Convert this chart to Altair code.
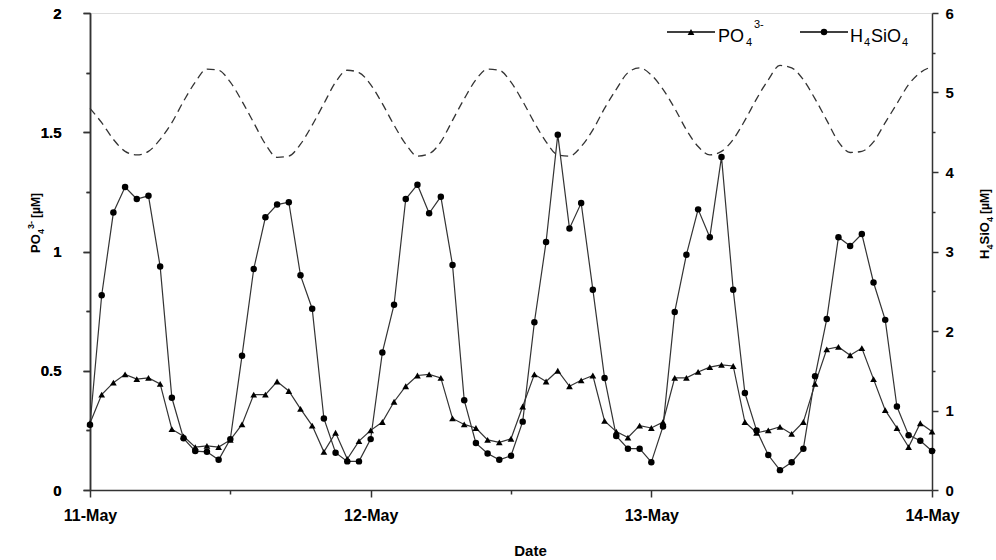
import altair as alt
import pandas as pd

FONT = "Liberation Sans"

# hours after 11-May 00:00 (hourly sampling)
hours = list(range(73))

po4 = [0.28, 0.40, 0.45, 0.485, 0.465, 0.47, 0.445, 0.255, 0.225, 0.18,
       0.185, 0.18, 0.21, 0.275, 0.40, 0.40, 0.455, 0.415, 0.34, 0.27,
       0.16, 0.24, 0.13, 0.205, 0.25, 0.285, 0.37, 0.435, 0.48, 0.485,
       0.47, 0.30, 0.275, 0.26, 0.21, 0.20, 0.215, 0.35, 0.485, 0.455,
       0.50, 0.435, 0.46, 0.48, 0.29, 0.245, 0.22, 0.27, 0.26, 0.285,
       0.47, 0.47, 0.495, 0.515, 0.525, 0.52, 0.285, 0.24, 0.25, 0.265,
       0.235, 0.285, 0.445, 0.59, 0.60, 0.565, 0.595, 0.465, 0.335, 0.26,
       0.18, 0.28, 0.245]

si = [0.82, 2.45, 3.49, 3.81, 3.66, 3.70, 2.81, 1.16, 0.65, 0.49,
      0.48, 0.38, 0.64, 1.69, 2.78, 3.43, 3.59, 3.62, 2.70, 2.28,
      0.90, 0.47, 0.36, 0.36, 0.64, 1.73, 2.33, 3.66, 3.84, 3.48,
      3.69, 2.83, 1.13, 0.59, 0.46, 0.38, 0.43, 0.86, 2.11, 3.12,
      4.47, 3.29, 3.61, 2.52, 1.41, 0.68, 0.52, 0.52, 0.35, 0.80,
      2.24, 2.96, 3.53, 3.18, 4.19, 2.52, 1.22, 0.75, 0.44, 0.25,
      0.35, 0.52, 1.43, 2.15, 3.18, 3.07, 3.22, 2.61, 2.14, 1.05,
      0.69, 0.62, 0.49]

# dashed tidal curve, read on the left-axis scale
tide = [1.60, 1.54, 1.47, 1.42, 1.405, 1.42, 1.47, 1.54, 1.63, 1.71,
        1.765, 1.76, 1.71, 1.63, 1.54, 1.45, 1.395, 1.40, 1.45, 1.53,
        1.62, 1.71, 1.76, 1.75, 1.70, 1.62, 1.53, 1.45, 1.40, 1.41,
        1.46, 1.55, 1.64, 1.72, 1.765, 1.76, 1.71, 1.63, 1.54, 1.46,
        1.405, 1.40, 1.44, 1.51, 1.60, 1.68, 1.75, 1.77, 1.74, 1.68,
        1.60, 1.51, 1.44, 1.405, 1.42, 1.47, 1.55, 1.64, 1.72, 1.78,
        1.77, 1.72, 1.64, 1.55, 1.46, 1.415, 1.42, 1.46, 1.54, 1.62,
        1.70, 1.75, 1.775]

left_ticks = [0, 0.25, 0.5, 0.75, 1, 1.25, 1.5, 1.75, 2]
right_ticks = [0, 0.5, 1, 1.5, 2, 2.5, 3, 3.5, 4, 4.5, 5, 5.5, 6]
day_ticks = [(11, 0), (11, 12), (12, 0), (12, 12), (13, 0), (13, 12), (14, 0)]

start = pd.Timestamp("2012-05-11 00:00")
times = [start + pd.Timedelta(hours=h) for h in hours]
df = pd.DataFrame({"time": times, "po4": po4, "si": si, "tide": tide})

LINE = "#333333"

x_axis = alt.Axis(
    values=[alt.DateTime(year=2012, month=5, date=d, hours=h) for d, h in day_ticks],
    format="%-d-%b",
    labelExpr="hours(datum.value) == 0 ? datum.label : ''",
    tickSize={"condition": {"test": "hours(datum.value) == 0", "value": 7}, "value": 4},
    labelFont=FONT, labelFontSize=16, labelFontWeight="bold", labelColor="black",
    labelPadding=10, labelFlush=False,
    domainColor=LINE, tickColor=LINE, domainWidth=1.5, tickWidth=1.5, grid=False,
    title="Date", titleFont=FONT, titleFontSize=15, titleFontWeight="bold",
    titleColor="black", titleX=440, titleY=65, titleBaseline="alphabetic",
)
x_enc = alt.X(
    "time:T",
    scale=alt.Scale(domain=[alt.DateTime(year=2012, month=5, date=11),
                            alt.DateTime(year=2012, month=5, date=14)]),
    axis=x_axis,
)

left_axis = alt.Axis(
    orient="left", values=left_ticks,
    labelExpr="datum.value % 0.5 == 0 ? '' + datum.value : ''",
    tickSize={"condition": {"test": "datum.value % 0.5 == 0", "value": 7}, "value": 4},
    labelFont=FONT, labelFontSize=15, labelFontWeight="bold", labelColor="black",
    labelPadding=22, labelFlush=False,
    domainColor=LINE, tickColor=LINE, domainWidth=1.5, tickWidth=1.5, grid=False,
    title=None,
)
right_axis = alt.Axis(
    orient="right", values=right_ticks,
    labelExpr="datum.value % 1 == 0 ? '' + datum.value : ''",
    tickSize={"condition": {"test": "datum.value % 1 == 0", "value": 6}, "value": 3},
    labelFont=FONT, labelFontSize=15, labelFontWeight="bold", labelColor="black",
    labelPadding=7, labelFlush=False,
    domainColor=LINE, tickColor=LINE, domainWidth=1.5, tickWidth=1.5, grid=False,
    title=None,
)
left_scale = alt.Scale(domain=[0, 2], nice=False)
right_scale = alt.Scale(domain=[0, 6], nice=False)

base = alt.Chart(df)

tide_line = base.mark_line(color=LINE, strokeWidth=1.3, strokeDash=[8, 5],
                           interpolate="monotone").encode(
    x=x_enc, y=alt.Y("tide:Q", scale=left_scale, axis=left_axis))
po4_line = base.mark_line(color=LINE, strokeWidth=1.2).encode(
    x=x_enc, y=alt.Y("po4:Q", scale=left_scale, axis=left_axis))
po4_pts = base.mark_point(shape="triangle-up", filled=True, color="black",
                          size=45, opacity=1).encode(
    x=x_enc, y=alt.Y("po4:Q", scale=left_scale, axis=left_axis))
si_line = base.mark_line(color=LINE, strokeWidth=1.2).encode(
    x=x_enc, y=alt.Y("si:Q", scale=right_scale, axis=right_axis))
si_pts = base.mark_point(shape="circle", filled=True, color="black",
                         size=42, opacity=1).encode(
    x=x_enc, y=alt.Y("si:Q", scale=right_scale, axis=right_axis))

left_group = alt.layer(tide_line, po4_line)
right_group = alt.layer(si_line, si_pts)
left_pts_group = alt.layer(po4_pts)

one = pd.DataFrame({"k": [0]})


def txt(s, x, y, size, bold=False, angle=0):
    return alt.Chart(one).mark_text(
        text=s, font=FONT, fontSize=size,
        fontWeight="bold" if bold else "normal",
        angle=angle, align="left", baseline="alphabetic", color="black",
    ).encode(x=alt.value(x), y=alt.value(y))


# legend (inside plot, top right)
leg_rule1 = alt.Chart(one).mark_rule(color="black", strokeWidth=1.3).encode(
    x=alt.value(577), x2=alt.value(625), y=alt.value(19))
leg_pt1 = alt.Chart(one).mark_point(shape="triangle-up", filled=True, color="black",
                                    size=45, opacity=1).encode(
    x=alt.value(601), y=alt.value(19))
leg_rule2 = alt.Chart(one).mark_rule(color="black", strokeWidth=1.3).encode(
    x=alt.value(710), x2=alt.value(758), y=alt.value(19))
leg_pt2 = alt.Chart(one).mark_point(shape="circle", filled=True, color="black",
                                    size=42, opacity=1).encode(
    x=alt.value(734), y=alt.value(19))

legend_texts = [
    txt("PO", 628, 29, 18),
    txt("4", 656, 33, 11),
    txt("3-", 664, 15, 11),
    txt("H", 760, 29, 18),
    txt("4", 774, 33, 11),
    txt("SiO", 781, 29, 18),
    txt("4", 812, 33, 11),
]

# left axis title: PO4 3- [µM] (rotated)
left_title = [
    txt("PO", -50, 240, 13, True, 270),
    txt("4", -46, 221, 9, True, 270),
    txt("3-", -56, 216, 9, True, 270),
    txt("[µM]", -50, 205, 12, True, 270),
]
# right axis title: H4SiO4 [µM] (rotated)
right_title = [
    txt("H", 899, 246, 13, True, 270),
    txt("4", 903, 236.5, 9, True, 270),
    txt("SiO", 899, 231.5, 13, True, 270),
    txt("4", 903, 209, 9, True, 270),
    txt("[µM]", 899, 201, 12, True, 270),
]

data_layers = alt.layer(left_group, right_group).resolve_scale(y="independent")

chart = alt.layer(
    data_layers, left_pts_group,
    leg_rule1, leg_pt1, leg_rule2, leg_pt2,
    *legend_texts, *left_title, *right_title,
).resolve_scale(y="independent").properties(
    width=842, height=477,
    autosize=alt.AutoSizeParams(type="none"),
    padding={"left": 90, "top": 13, "right": 64, "bottom": 70},
).configure_view(
    stroke=LINE, strokeWidth=1.5,
).configure(background="white")

chart.save("out.html", embed_options={"renderer": "svg", "actions": False})
